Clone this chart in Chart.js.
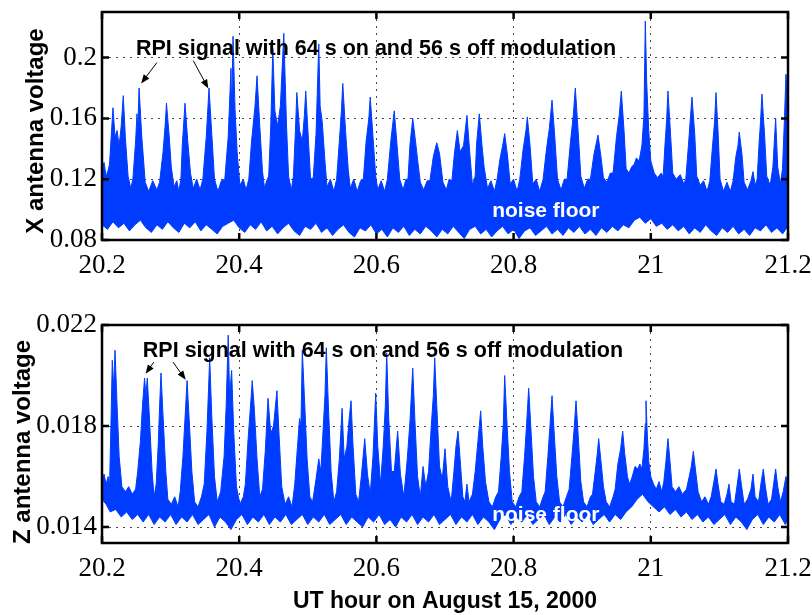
<!DOCTYPE html>
<html>
<head>
<meta charset="utf-8">
<script src="https://cdn.jsdelivr.net/npm/chart.js@4.4.0/dist/chart.umd.min.js"></script>
<style>
  html, body { margin: 0; padding: 0; background: #fff; }
  #wrap { position: relative; width: 812px; height: 615px; overflow: hidden; background: #fff; }
  #wrap canvas { position: absolute; left: 0; }
  #cx { top: 0; }
  #cz { top: 290px; }
</style>
</head>
<body>
<div id="wrap">
  <canvas id="cx" width="812" height="290"></canvas>
  <canvas id="cz" width="812" height="325"></canvas>
</div>
<script>
// valeurs (heure UT, volts)
const xTickValues = [20.2, 20.4, 20.6, 20.8, 21.0, 21.2];
const xTickLabels = ['20.2', '20.4', '20.6', '20.8', '21', '21.2'];
const yTicksX = [0.08, 0.12, 0.16, 0.2];
const yLabelsX = ['0.08', '0.12', '0.16', '0.2'];
const yTicksZ = [0.014, 0.018, 0.022];
const yLabelsZ = ['0.014', '0.018', '0.022'];

// bord haut de la trace X (enveloppe des pics)
const xUpper = [
  [20.200,0.128],[20.203,0.131],[20.206,0.122],[20.209,0.126],
  [20.211,0.130],[20.213,0.145],[20.216,0.167],[20.219,0.148],[20.222,0.152],[20.225,0.142],[20.228,0.155],[20.231,0.175],[20.234,0.148],[20.238,0.122],
  [20.242,0.114],[20.245,0.120],[20.249,0.145],[20.251,0.163],[20.252,0.150],[20.254,0.180],[20.258,0.148],[20.263,0.118],
  [20.268,0.112],[20.274,0.119],[20.280,0.113],
  [20.284,0.118],[20.289,0.138],[20.292,0.155],[20.294,0.170],[20.298,0.148],[20.301,0.128],[20.305,0.115],
  [20.309,0.119],[20.312,0.112],
  [20.315,0.120],[20.317,0.142],[20.321,0.170],[20.325,0.145],[20.329,0.124],[20.333,0.114],
  [20.338,0.120],[20.343,0.113],
  [20.347,0.120],[20.352,0.148],[20.356,0.180],[20.360,0.150],[20.364,0.120],
  [20.369,0.112],[20.374,0.119],
  [20.379,0.120],[20.384,0.148],[20.388,0.193],[20.389,0.165],[20.391,0.214],[20.394,0.165],[20.397,0.138],[20.401,0.116],
  [20.406,0.120],[20.410,0.113],
  [20.414,0.120],[20.418,0.145],[20.423,0.168],[20.426,0.188],[20.430,0.155],[20.434,0.125],[20.437,0.114],
  [20.440,0.119],
  [20.443,0.122],[20.446,0.155],[20.449,0.206],[20.452,0.165],[20.456,0.155],[20.460,0.168],[20.465,0.216],[20.469,0.155],[20.472,0.122],
  [20.476,0.113],
  [20.479,0.122],[20.482,0.152],[20.484,0.177],[20.488,0.152],[20.492,0.145],[20.495,0.162],[20.497,0.178],[20.501,0.145],[20.504,0.120],
  [20.508,0.121],[20.512,0.150],[20.516,0.209],[20.518,0.168],[20.521,0.158],[20.525,0.132],[20.528,0.115],
  [20.533,0.120],[20.538,0.112],
  [20.542,0.120],[20.546,0.145],[20.549,0.165],[20.551,0.183],[20.555,0.152],[20.559,0.126],[20.562,0.114],
  [20.567,0.120],[20.572,0.112],[20.577,0.119],
  [20.581,0.120],[20.585,0.145],[20.589,0.160],[20.591,0.174],[20.595,0.148],[20.599,0.122],[20.602,0.113],
  [20.607,0.119],[20.612,0.112],
  [20.616,0.120],[20.621,0.145],[20.626,0.165],[20.630,0.143],[20.634,0.120],
  [20.639,0.113],[20.643,0.120],
  [20.646,0.120],[20.649,0.143],[20.653,0.160],[20.657,0.145],[20.660,0.133],[20.664,0.118],
  [20.669,0.113],[20.674,0.119],
  [20.678,0.119],[20.683,0.135],[20.688,0.144],[20.692,0.137],[20.697,0.118],
  [20.702,0.113],[20.706,0.120],
  [20.710,0.119],[20.714,0.138],[20.718,0.152],[20.722,0.138],[20.727,0.142],[20.732,0.162],[20.736,0.138],[20.740,0.116],
  [20.744,0.122],[20.746,0.143],[20.750,0.163],[20.754,0.142],[20.757,0.128],[20.762,0.114],
  [20.767,0.119],[20.772,0.112],
  [20.776,0.120],[20.780,0.133],[20.784,0.142],[20.787,0.150],[20.791,0.136],[20.795,0.117],
  [20.800,0.120],[20.805,0.112],
  [20.809,0.120],[20.814,0.140],[20.818,0.152],[20.820,0.161],[20.824,0.142],[20.828,0.117],
  [20.833,0.120],[20.838,0.112],
  [20.843,0.120],[20.848,0.140],[20.852,0.153],[20.856,0.172],[20.860,0.148],[20.864,0.120],
  [20.869,0.113],[20.874,0.120],
  [20.878,0.120],[20.883,0.145],[20.887,0.162],[20.890,0.180],[20.894,0.152],[20.898,0.122],
  [20.903,0.114],[20.908,0.120],
  [20.912,0.120],[20.917,0.136],[20.923,0.149],[20.927,0.136],[20.931,0.121],
  [20.936,0.118],[20.941,0.124],
  [20.945,0.124],[20.950,0.148],[20.954,0.162],[20.957,0.178],[20.961,0.152],[20.964,0.127],
  [20.968,0.124],[20.972,0.128],[20.976,0.130],[20.979,0.134],[20.983,0.132],[20.987,0.142],[20.990,0.162],[20.992,0.224],[20.994,0.184],[20.997,0.152],[21.000,0.132],[21.005,0.124],
  [21.010,0.121],[21.015,0.124],
  [21.018,0.122],[21.021,0.145],[21.023,0.158],[21.025,0.178],[21.029,0.148],[21.032,0.124],
  [21.037,0.120],[21.043,0.123],[21.048,0.117],
  [21.051,0.120],[21.055,0.143],[21.058,0.162],[21.060,0.174],[21.064,0.150],[21.067,0.122],
  [21.072,0.116],[21.077,0.119],[21.082,0.112],
  [21.086,0.119],[21.090,0.142],[21.093,0.158],[21.095,0.177],[21.098,0.152],[21.101,0.120],
  [21.106,0.112],[21.111,0.118],[21.116,0.112],
  [21.120,0.119],[21.124,0.135],[21.127,0.142],[21.129,0.151],[21.133,0.136],[21.136,0.118],[21.141,0.113],[21.146,0.119],[21.149,0.125],[21.152,0.116],
  [21.155,0.120],[21.158,0.145],[21.160,0.158],[21.162,0.176],[21.166,0.148],[21.169,0.122],[21.174,0.116],[21.178,0.128],[21.182,0.160],[21.185,0.128],[21.189,0.117],
  [21.192,0.127],[21.195,0.162],[21.197,0.189],[21.200,0.172]
];

// bord bas de la trace X (plancher de bruit)
const xLower = [
  [20.200,0.090],[20.208,0.087],[20.216,0.092],[20.224,0.088],[20.232,0.091],[20.240,0.086],[20.248,0.090],[20.256,0.093],
  [20.264,0.088],[20.272,0.085],[20.280,0.090],[20.288,0.087],[20.296,0.092],[20.304,0.088],[20.312,0.085],[20.320,0.091],
  [20.328,0.088],[20.336,0.092],[20.344,0.086],[20.352,0.090],[20.360,0.087],[20.368,0.084],[20.376,0.089],[20.384,0.091],
  [20.392,0.093],[20.400,0.088],[20.408,0.085],[20.416,0.090],[20.424,0.087],[20.432,0.092],[20.440,0.086],[20.448,0.089],
  [20.456,0.084],[20.464,0.088],[20.472,0.091],[20.480,0.086],[20.488,0.083],[20.496,0.089],[20.504,0.087],[20.512,0.091],
  [20.520,0.085],[20.528,0.088],[20.536,0.083],[20.544,0.087],[20.552,0.090],[20.560,0.085],[20.568,0.082],[20.576,0.088],
  [20.584,0.086],[20.592,0.090],[20.600,0.084],[20.608,0.087],[20.616,0.082],[20.624,0.088],[20.632,0.085],[20.640,0.089],
  [20.648,0.083],[20.656,0.087],[20.664,0.084],[20.672,0.089],[20.680,0.086],[20.688,0.082],[20.696,0.087],[20.704,0.084],
  [20.712,0.089],[20.720,0.085],[20.728,0.081],[20.736,0.087],[20.744,0.089],[20.752,0.084],[20.760,0.087],[20.768,0.082],
  [20.776,0.086],[20.784,0.089],[20.792,0.084],[20.800,0.087],[20.808,0.081],[20.816,0.086],[20.824,0.088],[20.832,0.083],
  [20.840,0.086],[20.848,0.089],[20.856,0.084],[20.864,0.087],[20.872,0.083],[20.880,0.088],[20.888,0.085],[20.896,0.089],
  [20.904,0.084],[20.912,0.087],[20.920,0.083],[20.928,0.088],[20.936,0.085],[20.944,0.089],[20.952,0.086],[20.960,0.090],
  [20.968,0.088],[20.976,0.093],[20.984,0.095],[20.992,0.091],[21.000,0.094],[21.008,0.089],[21.016,0.091],[21.024,0.087],
  [21.032,0.090],[21.040,0.086],[21.048,0.089],[21.056,0.084],[21.064,0.088],[21.072,0.085],[21.080,0.090],[21.088,0.086],
  [21.096,0.083],[21.104,0.088],[21.112,0.085],[21.120,0.089],[21.128,0.084],[21.136,0.087],[21.144,0.083],[21.152,0.088],
  [21.160,0.086],[21.168,0.090],[21.176,0.085],[21.184,0.088],[21.192,0.084],[21.200,0.089]
];

// bord haut de la trace Z
const zUpper = [
  [20.200,0.0158],[20.203,0.0161],[20.206,0.0157],[20.209,0.0160],[20.211,0.0156],
  [20.213,0.0180],[20.215,0.0206],[20.217,0.0195],[20.219,0.0210],[20.222,0.0188],[20.225,0.0168],[20.229,0.0156],
  [20.234,0.0154],[20.239,0.0156],[20.244,0.0153],[20.249,0.0155],
  [20.252,0.0162],[20.256,0.0174],[20.259,0.0188],[20.262,0.0199],[20.264,0.0192],[20.266,0.0199],[20.269,0.0184],[20.273,0.0162],[20.276,0.0152],
  [20.279,0.0157],[20.282,0.0173],[20.284,0.0188],[20.286,0.0201],[20.289,0.0184],[20.293,0.0162],[20.296,0.0151],
  [20.301,0.0149],[20.306,0.0152],[20.311,0.0148],
  [20.314,0.0154],[20.318,0.0168],[20.321,0.0183],[20.324,0.0198],[20.327,0.0183],[20.331,0.0162],[20.335,0.0150],
  [20.340,0.0148],[20.345,0.0152],
  [20.349,0.0157],[20.353,0.0178],[20.357,0.0207],[20.360,0.0184],[20.364,0.0160],[20.368,0.0150],
  [20.373,0.0154],[20.378,0.0168],[20.381,0.0188],[20.384,0.0216],[20.386,0.0192],[20.389,0.0202],[20.392,0.0178],[20.396,0.0156],
  [20.401,0.0149],[20.406,0.0152],
  [20.409,0.0157],[20.413,0.0175],[20.417,0.0190],[20.419,0.0198],[20.422,0.0187],[20.426,0.0167],[20.430,0.0152],
  [20.434,0.0155],[20.438,0.0170],[20.442,0.0191],[20.446,0.0177],[20.450,0.0180],[20.455,0.0194],[20.458,0.0177],[20.462,0.0156],
  [20.467,0.0149],[20.472,0.0152],[20.477,0.0148],
  [20.481,0.0157],[20.485,0.0172],[20.488,0.0183],[20.490,0.0180],[20.492,0.0210],[20.495,0.0192],[20.499,0.0167],[20.503,0.0152],
  [20.507,0.0150],[20.512,0.0159],[20.516,0.0167],[20.519,0.0162],[20.522,0.0177],[20.525,0.0192],[20.527,0.0211],[20.530,0.0188],[20.534,0.0162],[20.538,0.0150],
  [20.542,0.0154],[20.546,0.0167],[20.550,0.0187],[20.553,0.0167],[20.557,0.0172],[20.560,0.0182],[20.563,0.0190],[20.566,0.0172],[20.570,0.0153],
  [20.574,0.0150],[20.578,0.0160],[20.583,0.0175],[20.587,0.0161],[20.591,0.0153],[20.595,0.0168],[20.599,0.0193],[20.602,0.0172],
  [20.606,0.0157],[20.610,0.0172],[20.613,0.0188],[20.615,0.0209],[20.618,0.0183],[20.622,0.0162],
  [20.626,0.0162],[20.631,0.0178],[20.635,0.0161],[20.640,0.0152],[20.645,0.0167],[20.649,0.0182],[20.653,0.0203],[20.656,0.0183],[20.660,0.0160],
  [20.664,0.0152],[20.668,0.0164],[20.672,0.0156],[20.676,0.0162],[20.680,0.0180],[20.683,0.0192],[20.685,0.0207],[20.688,0.0188],[20.692,0.0164],
  [20.696,0.0159],[20.700,0.0171],[20.704,0.0156],[20.709,0.0150],[20.713,0.0162],[20.716,0.0172],[20.719,0.0178],[20.722,0.0167],[20.726,0.0152],[20.729,0.0150],[20.732,0.0157],[20.735,0.0150],
  [20.740,0.0153],[20.744,0.0162],[20.748,0.0174],[20.752,0.0186],[20.755,0.0172],[20.759,0.0158],[20.764,0.0150],
  [20.769,0.0148],[20.774,0.0152],
  [20.778,0.0154],[20.782,0.0168],[20.785,0.0181],[20.787,0.0200],[20.790,0.0183],[20.794,0.0162],[20.798,0.0150],
  [20.803,0.0148],[20.808,0.0152],
  [20.812,0.0154],[20.816,0.0168],[20.819,0.0181],[20.822,0.0195],[20.825,0.0180],[20.829,0.0160],[20.833,0.0150],
  [20.838,0.0148],[20.843,0.0152],
  [20.846,0.0154],[20.850,0.0168],[20.853,0.0180],[20.856,0.0192],[20.859,0.0178],[20.863,0.0160],[20.867,0.0150],
  [20.872,0.0148],[20.877,0.0152],
  [20.881,0.0155],[20.885,0.0168],[20.888,0.0178],[20.891,0.0190],[20.894,0.0177],[20.898,0.0158],[20.902,0.0150],
  [20.907,0.0148],[20.912,0.0152],
  [20.915,0.0153],[20.919,0.0162],[20.922,0.0169],[20.924,0.0175],[20.927,0.0167],[20.931,0.0156],[20.935,0.0150],
  [20.940,0.0148],[20.945,0.0152],
  [20.948,0.0155],[20.952,0.0165],[20.956,0.0171],[20.959,0.0178],[20.962,0.0169],[20.966,0.0160],
  [20.969,0.0157],[20.973,0.0160],[20.977,0.0164],[20.981,0.0163],[20.984,0.0165],[20.987,0.0163],[20.990,0.0171],[20.992,0.0181],[20.993,0.0190],[20.995,0.0176],[20.997,0.0166],[21.000,0.0160],
  [21.004,0.0157],[21.008,0.0155],[21.012,0.0158],[21.016,0.0154],
  [21.019,0.0158],[21.022,0.0166],[21.025,0.0175],[21.028,0.0166],[21.031,0.0156],
  [21.036,0.0154],[21.041,0.0156],[21.046,0.0153],
  [21.052,0.0155],[21.056,0.0160],[21.059,0.0164],[21.062,0.0170],[21.065,0.0163],[21.069,0.0154],
  [21.074,0.0150],[21.079,0.0152],[21.084,0.0149],
  [21.088,0.0152],[21.092,0.0158],[21.095,0.0163],[21.098,0.0157],[21.102,0.0150],[21.107,0.0149],[21.111,0.0153],[21.114,0.0157],[21.117,0.0150],
  [21.122,0.0149],[21.126,0.0157],[21.129,0.0163],[21.132,0.0157],[21.136,0.0149],[21.141,0.0151],[21.146,0.0155],[21.149,0.0161],[21.152,0.0152],
  [21.157,0.0150],[21.161,0.0158],[21.164,0.0163],[21.167,0.0156],[21.171,0.0149],[21.176,0.0151],[21.179,0.0157],[21.182,0.0163],[21.185,0.0156],[21.189,0.0150],
  [21.193,0.0154],[21.197,0.0160],[21.200,0.0156]
];

// bord bas de la trace Z
const zLower = [
  [20.200,0.0151],[20.206,0.0149],[20.212,0.0146],[20.220,0.0147],[20.228,0.0144],[20.236,0.0146],[20.244,0.0143],[20.252,0.0145],
  [20.260,0.0142],[20.268,0.0145],[20.276,0.0141],[20.284,0.0144],[20.292,0.0142],[20.300,0.0145],[20.308,0.0141],[20.316,0.0144],
  [20.324,0.0142],[20.332,0.0145],[20.340,0.0141],[20.348,0.0143],[20.356,0.0145],[20.364,0.0140],[20.372,0.0144],[20.380,0.0142],
  [20.388,0.0139],[20.396,0.0143],[20.404,0.0145],[20.412,0.0141],[20.420,0.0144],[20.428,0.0142],[20.436,0.0145],[20.444,0.0141],
  [20.452,0.0144],[20.460,0.0142],[20.468,0.0145],[20.476,0.0141],[20.484,0.0143],[20.492,0.0145],[20.500,0.0141],[20.508,0.0144],
  [20.516,0.0142],[20.524,0.0145],[20.532,0.0141],[20.540,0.0143],[20.548,0.0145],[20.556,0.0141],[20.564,0.0144],[20.572,0.0142],
  [20.580,0.0140],[20.588,0.0144],[20.596,0.0142],[20.604,0.0145],[20.612,0.0141],[20.620,0.0143],[20.628,0.0140],[20.636,0.0144],
  [20.644,0.0142],[20.652,0.0145],[20.660,0.0141],[20.668,0.0144],[20.676,0.0142],[20.684,0.0145],[20.692,0.0141],[20.700,0.0143],
  [20.708,0.0145],[20.716,0.0141],[20.724,0.0144],[20.732,0.0142],[20.740,0.0145],[20.748,0.0141],[20.756,0.0144],[20.764,0.0142],
  [20.772,0.0139],[20.780,0.0143],[20.788,0.0145],[20.796,0.0141],[20.804,0.0144],[20.812,0.0142],[20.820,0.0145],[20.828,0.0141],
  [20.836,0.0143],[20.844,0.0145],[20.852,0.0141],[20.860,0.0144],[20.868,0.0142],[20.876,0.0145],[20.884,0.0141],[20.892,0.0144],
  [20.900,0.0142],[20.908,0.0145],[20.916,0.0141],[20.924,0.0143],[20.932,0.0145],[20.940,0.0142],[20.948,0.0145],[20.956,0.0143],
  [20.964,0.0146],[20.972,0.0148],[20.980,0.0151],[20.988,0.0153],[20.996,0.0150],[21.004,0.0148],[21.012,0.0146],[21.020,0.0148],
  [21.028,0.0145],[21.036,0.0147],[21.044,0.0144],[21.052,0.0146],[21.060,0.0143],[21.068,0.0145],[21.076,0.0142],[21.084,0.0144],
  [21.092,0.0141],[21.100,0.0143],[21.108,0.0145],[21.116,0.0141],[21.124,0.0144],[21.132,0.0142],[21.140,0.0139],[21.148,0.0143],
  [21.156,0.0145],[21.164,0.0141],[21.172,0.0144],[21.180,0.0142],[21.188,0.0145],[21.196,0.0141],[21.200,0.0143]
];

const BLUE = 'rgb(0,60,255)';
const SERIF = "'Liberation Serif', 'Times New Roman', serif";
const SANS = "'Liberation Sans', Arial, Helvetica, sans-serif";

function toPts(arr) {
  return arr.map(function(p) { return { x: p[0], y: p[1] }; });
}

// cadre noir + graduations vers l'intérieur (style matlab) + titre vertical
const framePlugin = {
  id: 'frame',
  afterDraw: function(chart, args, opts) {
    var ctx = chart.ctx, a = chart.chartArea, sx = chart.scales.x, sy = chart.scales.y;
    var len = 7;
    ctx.save();
    ctx.strokeStyle = '#000';
    ctx.lineWidth = 2.5;
    ctx.strokeRect(a.left, a.top, a.right - a.left, a.bottom - a.top);
    ctx.beginPath();
    sx.ticks.forEach(function(t) {
      var px = sx.getPixelForValue(t.value);
      ctx.moveTo(px, a.bottom); ctx.lineTo(px, a.bottom - len);
      ctx.moveTo(px, a.top); ctx.lineTo(px, a.top + len);
    });
    sy.ticks.forEach(function(t) {
      var py = sy.getPixelForValue(t.value);
      ctx.moveTo(a.left, py); ctx.lineTo(a.left + len, py);
      ctx.moveTo(a.right, py); ctx.lineTo(a.right - len, py);
    });
    ctx.stroke();
    if (opts.yTitle) {
      ctx.translate(opts.titleX, (a.top + a.bottom) / 2 + opts.titleShift);
      ctx.rotate(-Math.PI / 2);
      ctx.font = 'bold 24px ' + SANS;
      ctx.fillStyle = '#000';
      ctx.textAlign = 'center';
      ctx.textBaseline = 'middle';
      ctx.fillText(opts.yTitle, 0, 0);
    }
    ctx.restore();
  }
};

// textes et flèches posés en coordonnées de données
const notePlugin = {
  id: 'notes',
  afterDatasetsDraw: function(chart, args, opts) {
    var ctx = chart.ctx, sx = chart.scales.x, sy = chart.scales.y;
    ctx.save();
    (opts.arrows || []).forEach(function(ar) {
      var x1 = sx.getPixelForValue(ar[0]), y1 = sy.getPixelForValue(ar[1]);
      var x2 = sx.getPixelForValue(ar[2]), y2 = sy.getPixelForValue(ar[3]);
      var ang = Math.atan2(y2 - y1, x2 - x1);
      ctx.strokeStyle = '#000';
      ctx.fillStyle = '#000';
      ctx.lineWidth = 1;
      ctx.beginPath();
      ctx.moveTo(x1, y1);
      ctx.lineTo(x2 - 6 * Math.cos(ang), y2 - 6 * Math.sin(ang));
      ctx.stroke();
      ctx.beginPath();
      ctx.moveTo(x2, y2);
      ctx.lineTo(x2 - 9 * Math.cos(ang) + 3.5 * Math.sin(ang), y2 - 9 * Math.sin(ang) - 3.5 * Math.cos(ang));
      ctx.lineTo(x2 - 9 * Math.cos(ang) - 3.5 * Math.sin(ang), y2 - 9 * Math.sin(ang) + 3.5 * Math.cos(ang));
      ctx.closePath();
      ctx.fill();
    });
    (opts.texts || []).forEach(function(t) {
      ctx.font = 'bold ' + t.size + 'px ' + SANS;
      ctx.fillStyle = t.color;
      ctx.textAlign = t.align;
      ctx.textBaseline = 'middle';
      ctx.fillText(t.text, sx.getPixelForValue(t.x), sy.getPixelForValue(t.y));
    });
    ctx.restore();
  }
};

function panel(id, upper, lower, yMin, yMax, yTicks, yLabels, frame, xTitle, pad, xHeight, notes) {
  return new Chart(document.getElementById(id), {
    type: 'line',
    data: {
      datasets: [
        { data: toPts(upper), borderColor: BLUE, backgroundColor: BLUE, borderWidth: 1, pointRadius: 0, fill: '+1', tension: 0 },
        { data: toPts(lower), borderColor: BLUE, backgroundColor: BLUE, borderWidth: 1, pointRadius: 0, fill: false, tension: 0 }
      ]
    },
    options: {
      responsive: false,
      animation: false,
      devicePixelRatio: 1,
      events: [],
      layout: { padding: pad },
      plugins: {
        legend: { display: false },
        tooltip: { enabled: false },
        notes: notes,
        frame: frame
      },
      scales: {
        x: {
          type: 'linear',
          min: 20.2,
          max: 21.2,
          afterBuildTicks: function(s) { s.ticks = xTickValues.map(function(v) { return { value: v }; }); },
          afterFit: function(s) { s.height = xHeight; s.paddingLeft = 0; s.paddingRight = 0; },
          ticks: {
            autoSkip: false,
            maxRotation: 0,
            padding: 10,
            color: '#000',
            font: { family: SERIF, size: 27 },
            callback: function(v, i) { return xTickLabels[i]; }
          },
          grid: { color: '#444', lineWidth: 1, drawTicks: false },
          border: { display: false, dash: [2, 5] },
          title: {
            display: !!xTitle,
            text: xTitle || '',
            color: '#000',
            font: { family: SANS, size: 23, weight: 'bold' },
            padding: { top: 0, bottom: 0 }
          }
        },
        y: {
          type: 'linear',
          min: yMin,
          max: yMax,
          afterBuildTicks: function(s) { s.ticks = yTicks.map(function(v) { return { value: v }; }); },
          afterFit: function(s) { s.width = 102; s.paddingTop = 0; s.paddingBottom = 0; },
          ticks: {
            padding: 5,
            color: '#000',
            font: { family: SERIF, size: 27 },
            callback: function(v, i) { return yLabels[i]; }
          },
          grid: { color: '#444', lineWidth: 1, drawTicks: false },
          border: { display: false, dash: [2, 5] },
          title: { display: false }
        }
      }
    },
    plugins: [framePlugin, notePlugin]
  });
}

panel('cx', xUpper, xLower, 0.08, 0.23, yTicksX, yLabelsX,
  { yTitle: 'X antenna voltage', titleX: 36, titleShift: 5 }, null,
  { top: 12, right: 24, left: 0, bottom: 0 }, 50,
  {
    texts: [
      { text: 'RPI signal with 64 s on and 56 s off modulation', x: 20.2495, y: 0.2055, align: 'left', size: 21.5, color: '#000' },
      { text: 'noise floor', x: 20.847, y: 0.099, align: 'center', size: 21, color: '#fff' }
    ],
    arrows: [
      [20.280, 0.1967, 20.257, 0.1830],
      [20.333, 0.1980, 20.355, 0.1797]
    ]
  });

panel('cz', zUpper, zLower, 0.01337, 0.022, yTicksZ, yLabelsZ,
  { yTitle: 'Z antenna voltage', titleX: 23, titleShift: 8 }, 'UT hour on August 15, 2000',
  { top: 35, right: 24, left: 0, bottom: 0 }, 72,
  {
    texts: [
      { text: 'RPI signal with 64 s on and 56 s off modulation', x: 20.2595, y: 0.02098, align: 'left', size: 21.5, color: '#000' },
      { text: 'noise floor', x: 20.847, y: 0.01446, align: 'center', size: 21, color: '#fff' }
    ],
    arrows: [
      [20.2755, 0.02053, 20.2635, 0.02007],
      [20.3035, 0.02053, 20.3220, 0.01983]
    ]
  });
</script>
</body>
</html>
